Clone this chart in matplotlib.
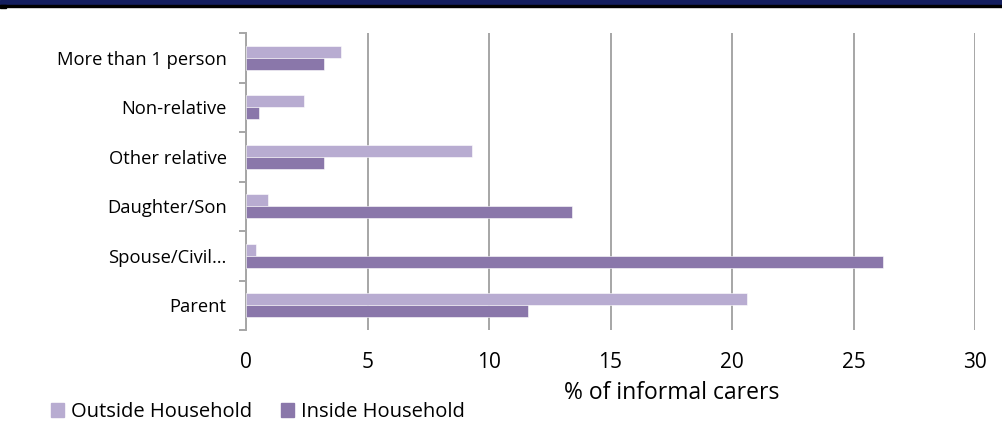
import matplotlib.pyplot as plt
import matplotlib.patches as mpatches
import numpy as np

plt.rcParams['font.family'] = ['Open Sans', 'DejaVu Sans']

categories = ['Parent', 'Spouse/Civil…', 'Daughter/Son', 'Other relative',
              'Non-relative', 'More than 1 person']
outside = [20.6, 0.4, 0.9, 9.3, 2.4, 3.9]
inside = [11.6, 26.2, 13.4, 3.2, 0.55, 3.2]
xticks = [0, 5, 10, 15, 20, 25, 30]

light = '#b8acd1'
dark = '#8a77aa'
grid_col = '#a6a6a6'

fig = plt.figure(figsize=(10.02, 4.38), dpi=100)
W, H = 1002, 438

# dark band along the top edge
fig.patches.append(mpatches.Rectangle((0, 1 - 5 / H), 1, 5 / H, transform=fig.transFigure,
                                      color='#141e5f', zorder=0))
fig.patches.append(mpatches.Rectangle((0, 1 - 6.5 / H), 1, 1.5 / H, transform=fig.transFigure,
                                      color='#000000', zorder=0))
fig.patches.append(mpatches.Rectangle((0, 1 - 8 / H), 6 / W, 3 / H, transform=fig.transFigure,
                                      color='#000000', zorder=0))

ax = fig.add_axes([246 / W, (H - 330) / H, (975 - 246) / W, 297 / H])

y = np.arange(len(categories))
h = 0.242
ax.barh(y + h / 2, outside, height=h, color=light, edgecolor='white', linewidth=0.4,
        label='Outside Household', zorder=3)
ax.barh(y - h / 2, inside, height=h, color=dark, edgecolor='white', linewidth=0.4,
        label='Inside Household', zorder=3)

ax.set_xlim(0, 30)
ax.set_ylim(-0.5, len(categories) - 0.5)
ax.set_xticks(xticks)
ax.set_xticklabels([str(v) for v in xticks], fontsize=15)
ax.tick_params(axis='x', length=0, pad=16)
ax.grid(axis='x', color=grid_col, linewidth=1.4, zorder=0)

ax.set_yticks(np.arange(len(categories) + 1) - 0.5)
ax.set_yticklabels([])
ax.set_yticks(y, minor=True)
ax.set_yticklabels(categories, minor=True, fontsize=13.2)
ax.tick_params(axis='y', which='major', length=5, width=1.4, color=grid_col, direction='out')
ax.tick_params(axis='y', which='minor', length=0, pad=14)

for s in ['top', 'right', 'bottom']:
    ax.spines[s].set_visible(False)
ax.spines['left'].set_color(grid_col)
ax.spines['left'].set_linewidth(1.4)

fig.text(672 / W, 1 - 393 / H, '% of informal carers', fontsize=16.5, ha='center', va='center')

handles = [mpatches.Patch(color=light), mpatches.Patch(color=dark)]
fig.legend(handles, ['Outside Household', 'Inside Household'], loc='center left',
           bbox_to_anchor=(33 / W, 1 - 412 / H), ncol=2, frameon=False, fontsize=14.5,
           handlelength=0.65, handleheight=0.65, handletextpad=0.35, columnspacing=1.4)

fig.savefig('out.png', dpi=100)
